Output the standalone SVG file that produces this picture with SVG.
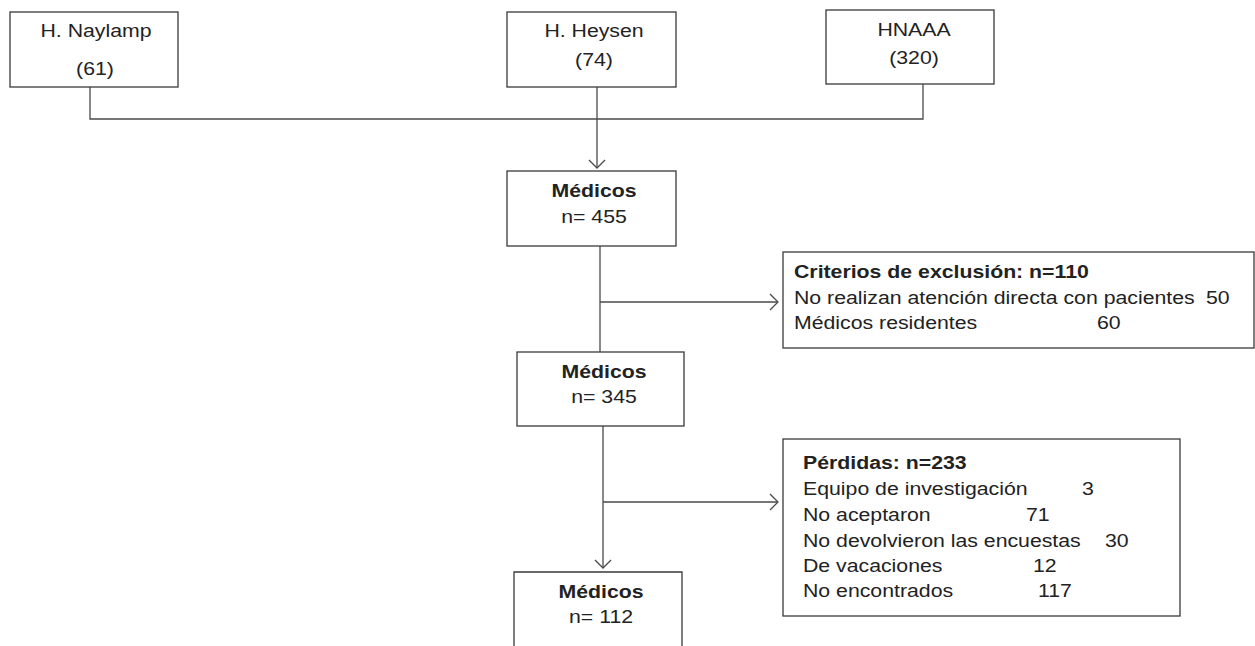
<svg xmlns="http://www.w3.org/2000/svg" width="1255" height="646" viewBox="0 0 1255 646">
<defs>
<style>
.box{fill:#fff;stroke:#3a3a3a;stroke-width:1.3}
.ln{fill:none;stroke:#4a4a4a;stroke-width:1.3}
text{font-family:"Liberation Sans",Arial,sans-serif;font-size:18.5px;fill:#222}
.c{text-anchor:middle}
.b{font-weight:bold}
</style>
<marker id="arr" markerUnits="userSpaceOnUse" markerWidth="10" markerHeight="18" viewBox="0 0 10 18" refX="9" refY="9" orient="auto">
<path d="M1,1 L9,9 L1,17" fill="none" stroke="#4a4a4a" stroke-width="1.3"/>
</marker>
</defs>
<rect width="1255" height="646" fill="#fff"/>
<g id="connectors">
<polyline class="ln" points="90,87 90,119 923,119 923,84"/>
<line class="ln" x1="597" y1="87" x2="597" y2="168" marker-end="url(#arr)"/>
<line class="ln" x1="600" y1="246" x2="600" y2="352"/>
<line class="ln" x1="600" y1="302" x2="778" y2="302" marker-end="url(#arr)"/>
<line class="ln" x1="603" y1="426" x2="603" y2="568" marker-end="url(#arr)"/>
<line class="ln" x1="603" y1="502" x2="778" y2="502" marker-end="url(#arr)"/>
</g>
<g id="naylamp">
<rect class="box" x="10" y="12" width="168" height="75"/>
<text class="c" transform="translate(96,37) scale(1.15,1)">H. Naylamp</text>
<text class="c" transform="translate(95,75) scale(1.15,1)">(61)</text>
</g>
<g id="heysen">
<rect class="box" x="507" y="12" width="169" height="75"/>
<text class="c" transform="translate(594,37) scale(1.15,1)">H. Heysen</text>
<text class="c" transform="translate(594,66) scale(1.15,1)">(74)</text>
</g>
<g id="hnaaa">
<rect class="box" x="826" y="10" width="168" height="74"/>
<text class="c" transform="translate(914,36) scale(1.15,1)">HNAAA</text>
<text class="c" transform="translate(914,64) scale(1.15,1)">(320)</text>
</g>
<g id="medicos455">
<rect class="box" x="507" y="171" width="169" height="75"/>
<text class="c b" transform="translate(594,197) scale(1.15,1)">Médicos</text>
<text class="c" transform="translate(594,223) scale(1.15,1)">n= 455</text>
</g>
<g id="medicos345">
<rect class="box" x="517" y="352" width="167" height="74"/>
<text class="c b" transform="translate(604,378) scale(1.15,1)">Médicos</text>
<text class="c" transform="translate(604,403) scale(1.15,1)">n= 345</text>
</g>
<g id="medicos112">
<path class="box" d="M514,647 L514,572 L682,572 L682,647"/>
<text class="c b" transform="translate(601,598) scale(1.15,1)">Médicos</text>
<text class="c" transform="translate(601,623) scale(1.15,1)">n= 112</text>
</g>
<g id="exclusion">
<rect class="box" x="783" y="252" width="471" height="96"/>
<text class="b" transform="translate(794,278) scale(1.15,1)">Criterios de exclusión: n=110</text>
<text transform="translate(794,304) scale(1.15,1)">No realizan atención directa con pacientes</text>
<text transform="translate(1206,304) scale(1.15,1)">50</text>
<text transform="translate(794,329) scale(1.15,1)">Médicos residentes</text>
<text transform="translate(1097,329) scale(1.15,1)">60</text>
</g>
<g id="perdidas">
<rect class="box" x="783" y="439" width="397" height="177"/>
<text class="b" transform="translate(803,469) scale(1.15,1)">Pérdidas: n=233</text>
<text transform="translate(803,495) scale(1.15,1)">Equipo de investigación</text>
<text transform="translate(1082,495) scale(1.15,1)">3</text>
<text transform="translate(803,521) scale(1.15,1)">No aceptaron</text>
<text transform="translate(1026,521) scale(1.15,1)">71</text>
<text transform="translate(803,547) scale(1.15,1)">No devolvieron las encuestas</text>
<text transform="translate(1105,547) scale(1.15,1)">30</text>
<text transform="translate(803,572) scale(1.15,1)">De vacaciones</text>
<text transform="translate(1033,572) scale(1.15,1)">12</text>
<text transform="translate(803,597) scale(1.15,1)">No encontrados</text>
<text transform="translate(1038,597) scale(1.15,1)">117</text>
</g>
</svg>
